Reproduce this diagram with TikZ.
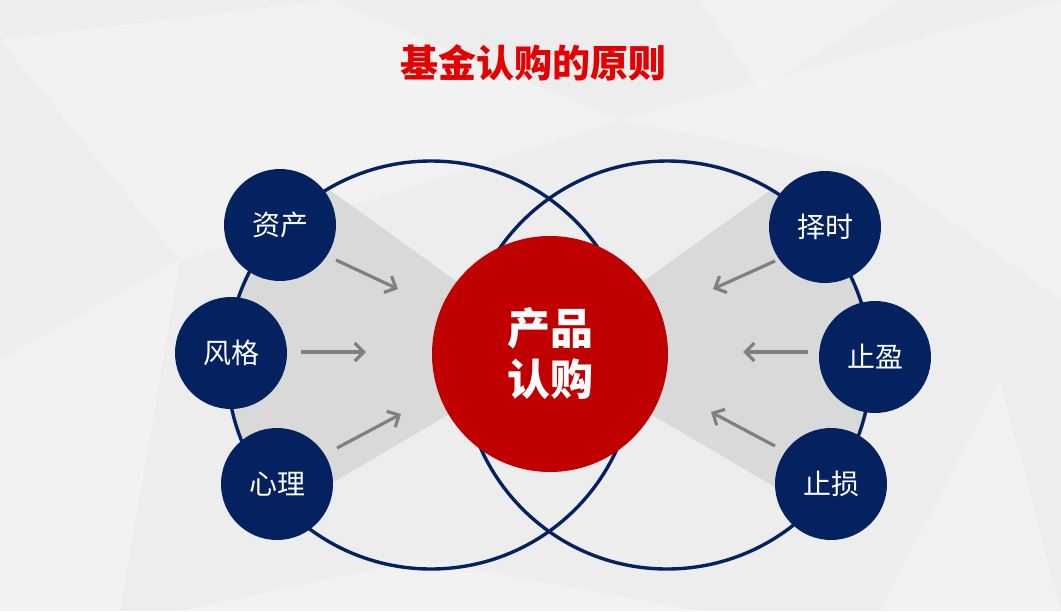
\documentclass[tikz,border=0pt]{standalone}
\usepackage{fontspec}
\newfontfamily\cjk{Noto Sans CJK SC}
\usetikzlibrary{arrows.meta}
\definecolor{navy}{RGB}{4,34,96}
\definecolor{cred}{RGB}{192,0,0}
\definecolor{tred}{RGB}{228,0,0}
\definecolor{wedgegray}{RGB}{217,217,217}
\definecolor{arrowgray}{RGB}{128,128,128}
\definecolor{bgcol}{RGB}{237,237,238}
\tikzset{
  smallc/.style={circle, fill=navy, minimum size=112pt, inner sep=0pt, text=white, font=\cjk\fontsize{28}{32}\selectfont},
  bigc/.style={draw=navy, line width=3.4pt},
  arr/.style={draw=arrowgray, line width=3.2pt, -{Straight Barb[length=9pt,width=18pt]}},
  facet/.style={fill=white, opacity=0.28}
}
\begin{document}
\begin{tikzpicture}[x=1pt,y=-1pt]
\useasboundingbox (0,0) rectangle (1061,611);
% background
\fill[bgcol] (0,0) rectangle (1061,611);
\fill[facet] (0,40) -- (330,0) -- (620,120) -- (180,260) -- cycle;
\fill[facet] (0,360) -- (180,260) -- (120,611) -- (0,611) -- cycle;
\fill[facet] (620,120) -- (1061,0) -- (1061,300) -- (880,170) -- cycle;
\fill[facet] (880,611) -- (1000,380) -- (1061,611) -- cycle;
\fill[facet] (180,611) -- (420,560) -- (700,611) -- cycle;
\fill[facet] (700,0) -- (900,0) -- (760,90) -- cycle;
% gray wedges
\begin{scope}
  \clip (431,365) circle[radius=204pt];
  \fill[wedgegray] (555,352) -- (90,18) -- (85,628) -- cycle;
\end{scope}
\begin{scope}
  \clip (667,365) circle[radius=204pt];
  \fill[wedgegray] (545,352) -- (1010,18) -- (1015,628) -- cycle;
\end{scope}
% big circles
\draw[bigc] (431,365) circle[radius=204pt];
\draw[bigc] (667,365) circle[radius=204pt];
% title
\node[text=tred, font=\cjk\bfseries\fontsize{38}{44}\selectfont] (title) at (533,63) {基金认购的原则};
% central circle
\node[circle, fill=cred, minimum size=236pt, inner sep=0pt, text=white, align=center,
      font=\cjk\bfseries\fontsize{43}{51}\selectfont] (prod) at (550,354) {产品\\认购};
% small circles
\node[smallc] (zc) at (280,225) {资产};
\node[smallc] (fg) at (231,353) {风格};
\node[smallc] (xl) at (277,484) {心理};
\node[smallc] (zs) at (825,227) {择时};
\node[smallc] (zy) at (875,357) {止盈};
\node[smallc] (zsun) at (831,484) {止损};
% arrows
\coordinate (a1s) at (336,260); \coordinate (a1e) at (398,289);
\coordinate (a2s) at (301,352); \coordinate (a2e) at (366,352);
\coordinate (a3s) at (337,448); \coordinate (a3e) at (401,414);
\coordinate (b1s) at (775,261); \coordinate (b1e) at (713,289);
\coordinate (b2s) at (808,352); \coordinate (b2e) at (743,352);
\coordinate (b3s) at (775,446); \coordinate (b3e) at (711,412);
\draw[arr] (a1s) -- (a1e);
\draw[arr] (a2s) -- (a2e);
\draw[arr] (a3s) -- (a3e);
\draw[arr] (b1s) -- (b1e);
\draw[arr] (b2s) -- (b2e);
\draw[arr] (b3s) -- (b3e);
\end{tikzpicture}
\end{document}
